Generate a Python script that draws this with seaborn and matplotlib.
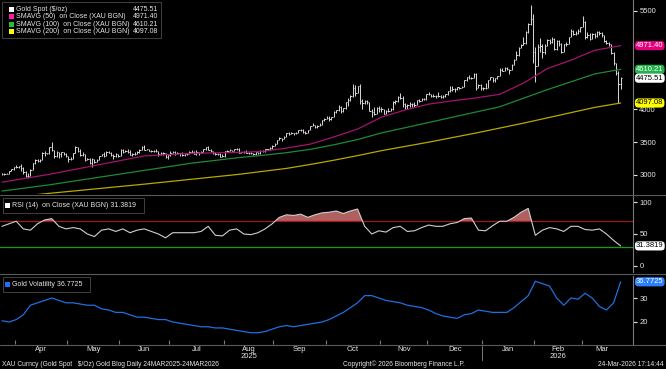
import numpy as np
import pandas as pd
import matplotlib
matplotlib.use("Agg")
import matplotlib.pyplot as plt
import matplotlib.transforms as mtransforms
from matplotlib.patches import Rectangle
from matplotlib.lines import Line2D
import seaborn as sns

# 거래일 (2025-03-24 ~ 2026-03-24)
days = pd.bdate_range("2025-03-24", "2026-03-24")

# 일별 금 현물 종가 / 고가 / 저가
gold_close = [
    3015, 3020, 3020, 3058, 3085, 3125, 3115, 3135, 3110, 3040,
    2985, 2985, 3080, 3175, 3235, 3215, 3230, 3340, 3328, 3328,
    3425, 3380, 3290, 3350, 3320, 3345, 3318, 3288, 3240, 3240,
    3335, 3430, 3365, 3305, 3325, 3232, 3250, 3178, 3240, 3202,
    3230, 3290, 3315, 3295, 3357, 3342, 3300, 3288, 3318, 3290,
    3380, 3353, 3373, 3352, 3310, 3326, 3323, 3355, 3386, 3432,
    3385, 3390, 3370, 3368, 3368, 3368, 3323, 3332, 3328, 3274,
    3303, 3338, 3357, 3326, 3337, 3336, 3301, 3313, 3324, 3355,
    3343, 3324, 3347, 3339, 3350, 3397, 3431, 3387, 3368, 3337,
    3314, 3326, 3275, 3289, 3363, 3373, 3380, 3369, 3396, 3398,
    3342, 3348, 3356, 3337, 3336, 3332, 3315, 3347, 3338, 3371,
    3365, 3394, 3397, 3416, 3448, 3476, 3533, 3559, 3545, 3586,
    3636, 3625, 3640, 3634, 3643, 3679, 3689, 3660, 3643, 3685,
    3747, 3764, 3736, 3749, 3759, 3833, 3859, 3866, 3857, 3886,
    3961, 3985, 4040, 3976, 4017, 4110, 4142, 4208, 4326, 4251,
    4356, 4125, 4096, 4125, 4113, 3982, 3953, 3930, 4025, 4002,
    4000, 3932, 3981, 3977, 4002, 4116, 4128, 4195, 4171, 4084,
    4045, 4067, 4077, 4079, 4065, 4137, 4132, 4164, 4157, 4239,
    4230, 4206, 4206, 4208, 4198, 4190, 4208, 4228, 4280, 4300,
    4305, 4303, 4338, 4330, 4340, 4445, 4488, 4480, 4480, 4533,
    4330, 4370, 4320, 4320, 4330, 4450, 4490, 4455, 4478, 4510,
    4600, 4590, 4625, 4615, 4595, 4670, 4760, 4830, 4940, 4980,
    5010, 5180, 5300, 5380, 4880, 4660, 4950, 4960, 4880, 4960,
    5050, 5020, 5080, 4920, 5040, 4990, 4880, 4990, 5000, 5100,
    5200, 5150, 5170, 5190, 5250, 5330, 5100, 5140, 5080, 5150,
    5120, 5180, 5160, 5130, 5040, 5010, 4990, 4860, 4700, 4560,
    4380, 4475.51,
]
gold_high = [
    3035, 3036, 3035, 3065, 3087, 3128, 3149, 3140, 3168, 3115,
    3055, 3025, 3098, 3180, 3245, 3245, 3240, 3357, 3358, 3335,
    3430, 3500, 3385, 3367, 3352, 3352, 3350, 3328, 3292, 3268,
    3338, 3437, 3434, 3390, 3348, 3325, 3265, 3255, 3252, 3245,
    3250, 3295, 3325, 3345, 3365, 3365, 3350, 3325, 3330, 3325,
    3392, 3392, 3380, 3403, 3375, 3340, 3349, 3360, 3397, 3446,
    3452, 3403, 3395, 3385, 3375, 3398, 3370, 3345, 3350, 3330,
    3310, 3358, 3365, 3365, 3345, 3342, 3345, 3318, 3330, 3368,
    3375, 3366, 3377, 3352, 3361, 3402, 3434, 3438, 3395, 3372,
    3345, 3335, 3333, 3315, 3363, 3381, 3390, 3386, 3400, 3410,
    3404, 3352, 3358, 3375, 3346, 3345, 3340, 3350, 3351, 3375,
    3377, 3394, 3400, 3423, 3453, 3490, 3540, 3578, 3564, 3600,
    3646, 3659, 3650, 3645, 3656, 3684, 3703, 3707, 3672, 3688,
    3750, 3791, 3764, 3761, 3785, 3835, 3872, 3895, 3897, 3888,
    3977, 3990, 4059, 4045, 4022, 4116, 4179, 4218, 4380, 4370,
    4362, 4382, 4161, 4148, 4150, 4112, 4000, 4030, 4030, 4050,
    4030, 4005, 3995, 4025, 4020, 4120, 4148, 4210, 4245, 4210,
    4090, 4080, 4110, 4090, 4110, 4140, 4160, 4170, 4170, 4240,
    4265, 4240, 4230, 4220, 4260, 4215, 4215, 4235, 4285, 4353,
    4350, 4320, 4342, 4348, 4350, 4450, 4497, 4526, 4500, 4550,
    4550, 4385, 4380, 4345, 4400, 4455, 4500, 4500, 4480, 4515,
    4630, 4635, 4640, 4645, 4620, 4690, 4770, 4890, 4955, 4990,
    5110, 5190, 5320, 5595, 5450, 4950, 4990, 5090, 4990, 4990,
    5080, 5070, 5100, 5090, 5050, 5050, 5010, 5000, 5020, 5110,
    5220, 5210, 5190, 5220, 5260, 5420, 5340, 5180, 5160, 5170,
    5160, 5190, 5200, 5175, 5140, 5060, 5030, 5000, 4870, 4710,
    4580, 4490,
]
gold_low = [
    3000, 3005, 3010, 3015, 3055, 3078, 3100, 3105, 3055, 3015,
    2970, 2957, 2980, 3070, 3170, 3193, 3205, 3225, 3285, 3320,
    3325, 3365, 3260, 3280, 3265, 3268, 3300, 3280, 3202, 3222,
    3238, 3330, 3355, 3295, 3290, 3208, 3227, 3173, 3120, 3180,
    3205, 3225, 3282, 3278, 3287, 3330, 3285, 3245, 3275, 3270,
    3290, 3334, 3345, 3340, 3305, 3295, 3310, 3320, 3340, 3378,
    3382, 3380, 3360, 3350, 3345, 3348, 3295, 3312, 3310, 3255,
    3248, 3295, 3328, 3310, 3320, 3295, 3287, 3282, 3308, 3322,
    3341, 3320, 3310, 3309, 3335, 3345, 3382, 3381, 3351, 3325,
    3302, 3309, 3268, 3268, 3280, 3350, 3362, 3358, 3366, 3378,
    3338, 3331, 3340, 3332, 3325, 3323, 3311, 3312, 3327, 3321,
    3357, 3352, 3378, 3385, 3401, 3445, 3470, 3526, 3511, 3542,
    3586, 3615, 3620, 3616, 3630, 3634, 3670, 3643, 3630, 3640,
    3682, 3740, 3717, 3722, 3740, 3759, 3820, 3851, 3820, 3845,
    3884, 3940, 3980, 3945, 3960, 4003, 4058, 4132, 4190, 4200,
    4254, 4082, 4005, 4080, 4075, 3970, 3886, 3920, 3925, 3965,
    3962, 3930, 3928, 3955, 3970, 3995, 4075, 4115, 4160, 4030,
    4008, 4011, 4040, 4040, 4040, 4060, 4105, 4120, 4140, 4150,
    4215, 4190, 4190, 4180, 4195, 4180, 4170, 4190, 4215, 4265,
    4280, 4270, 4290, 4310, 4320, 4340, 4435, 4470, 4470, 4480,
    4300, 4320, 4300, 4300, 4310, 4330, 4440, 4410, 4420, 4460,
    4510, 4580, 4590, 4595, 4540, 4600, 4670, 4760, 4820, 4930,
    4980, 5000, 5160, 5280, 4700, 4420, 4660, 4880, 4790, 4850,
    4960, 4990, 5010, 4900, 4910, 4970, 4860, 4870, 4970, 4990,
    5100, 5130, 5140, 5150, 5180, 5250, 5080, 5090, 5060, 5070,
    5090, 5110, 5140, 5110, 5030, 4990, 4970, 4840, 4680, 4520,
    4100, 4310,
]

# 이동평균 (거래일 인덱스별 판독값)
ma_idx = [0, 20, 40, 60, 80, 100, 110, 120, 130, 140, 150,
          160, 170, 180, 190, 200, 210, 220, 230, 240, 250, 261]
sma50 = [2890, 3010, 3150, 3290, 3330, 3345, 3360, 3410, 3470, 3580, 3700,
         3880, 3990, 4080, 4130, 4175, 4230, 4400, 4620, 4750, 4900, 4971.40]
sma100 = [2755, 2850, 2960, 3070, 3180, 3265, 3300, 3340, 3390, 3460, 3540,
          3640, 3720, 3800, 3880, 3960, 4040, 4170, 4300, 4420, 4540, 4610.21]
sma200 = [2650, 2720, 2790, 2860, 2935, 3010, 3055, 3100, 3160, 3225, 3295,
          3370, 3435, 3500, 3570, 3640, 3715, 3790, 3870, 3950, 4030, 4097.08]

# RSI(14), 변동성 (3 거래일마다)
rsi14 = [62, 66, 70, 58, 56, 66, 72, 74, 62, 58,
         60, 58, 50, 46, 56, 58, 54, 58, 52, 56,
         58, 54, 50, 44, 52, 52, 52, 52, 54, 62,
         48, 47, 56, 58, 50, 49, 52, 58, 66, 76,
         80, 79, 81, 76, 80, 83, 84, 86, 82, 86,
         89, 62, 50, 55, 53, 60, 62, 54, 55, 60,
         64, 62, 62, 66, 68, 74, 75, 56, 55, 63,
         70, 70, 76, 84, 90, 48, 56, 60, 58, 54,
         62, 62, 57, 56, 58, 50, 40, 31.3819]
gold_vol = [20.5, 20, 21, 23, 27, 28, 29, 30, 29, 28,
            28, 27.5, 27, 27, 25.5, 25, 24, 24, 23, 22,
            22, 21.5, 21, 21, 20, 19.5, 19, 18.5, 18, 18,
            17.5, 17.5, 17, 16.5, 16, 15.5, 15.5, 16, 17, 18,
            18.5, 18, 18.5, 19, 19.5, 20, 21, 22.5, 24, 26,
            28, 31, 31, 30, 29, 28.5, 28, 27, 26.5, 26,
            25, 23.5, 22.5, 22, 21.5, 23, 23.5, 25, 24.5, 24,
            24, 24, 26, 28.5, 31, 37, 36, 35, 30, 27,
            30, 29.5, 32, 30, 26.5, 25, 28, 36.7725]

W, H = 666, 369
GRAY = "#7a7a7a"
TXT = "#e6e6e6"

sns.set_style("dark")
plt.rcParams["font.family"] = ["Liberation Sans", "DejaVu Sans"]

fig = plt.figure(figsize=(W / 100, H / 100), dpi=100, facecolor="black")


def px_axes(top, bottom):
    return fig.add_axes([0, 1 - bottom / H, 633 / W, (bottom - top) / H])


ax1 = px_axes(0, 194)
ax2 = px_axes(196, 272)
ax3 = px_axes(276, 344)

x_day = np.arange(len(days))
x_sub = np.arange(len(rsi14)) * 3

# 가격 바
ax1.vlines(x_day, gold_low, gold_high, color="#d9d9d9", lw=0.7)
ax1.hlines(gold_close, x_day, x_day + 0.6, color="#d9d9d9", lw=0.7)
sns.lineplot(x=ma_idx, y=sma200, ax=ax1, color="#b8a800", lw=0.9)
sns.lineplot(x=ma_idx, y=sma100, ax=ax1, color="#1d8a33", lw=0.9)
sns.lineplot(x=ma_idx, y=sma50, ax=ax1, color="#a3136f", lw=0.9)
ax1.set_ylim(2710, 5667)
ax1.set_yticks([3000, 3500, 4000, 5500])

# RSI
rsi_arr = np.array(rsi14)
ax2.fill_between(x_sub, rsi_arr, 70, where=rsi_arr > 70, interpolate=True,
                 color="#b06060", lw=0)
ax2.fill_between(x_sub, rsi_arr, 30, where=rsi_arr < 30, interpolate=True,
                 color="#2f8f2f", lw=0)
ax2.axhline(70, color="#a01818", lw=0.9)
ax2.axhline(30, color="#12a012", lw=0.9)
sns.lineplot(x=x_sub, y=rsi14, ax=ax2, color="#cfcfcf", lw=0.8)
ax2.set_ylim(-9.4, 109.4)
ax2.set_yticks([0, 50, 100])

# 변동성
sns.lineplot(x=x_sub, y=gold_vol, ax=ax3, color="#1f6fe0", lw=0.9)
ax3.set_ylim(10.8, 39.2)
ax3.set_yticks([20, 30])

for ax in (ax1, ax2, ax3):
    ax.set_facecolor("black")
    ax.grid(False)
    for s in ("top", "left", "bottom"):
        ax.spines[s].set_visible(False)
    ax.spines["right"].set_color(GRAY)
    ax.spines["right"].set_linewidth(0.8)
    ax.yaxis.tick_right()
    ax.tick_params(axis="y", colors=TXT, labelsize=5.5, length=3, width=0.8,
                   pad=1.5)
    ax.tick_params(axis="x", bottom=False, labelbottom=False)
    ax.set_xlim(-0.84, 266.2)
    ax.set_xlabel("")
    ax.set_ylabel("")

# 월 구분 눈금과 월 이름
month_key = days.to_period("M")
starts, mids, names = [], [], []
for per in month_key.unique():
    pos = np.where(month_key == per)[0]
    if per.month == 3 and per.year == 2025:
        continue
    starts.append(pos[0] - 0.5)
    mids.append(pos[0] + (len(pos) - 1) / 2)
    names.append(per.strftime("%b"))
ax3.set_xticks(starts)
ax3.set_xticks(mids, minor=True)
ax3.set_xticklabels(names, minor=True)
ax3.tick_params(axis="x", which="major", bottom=True, direction="in",
                length=3, color=GRAY, labelbottom=False)
ax3.tick_params(axis="x", which="minor", bottom=True, length=0,
                labelbottom=True, labelsize=5.5, colors=TXT, pad=1.5)

tr3 = mtransforms.blended_transform_factory(ax3.transData, fig.transFigure)
ax3.text(mids[names.index("Aug")], 1 - 357 / H, "2025", transform=tr3,
         ha="center", va="center", fontsize=5.5, color=TXT)
ax3.text(mids[names.index("Feb")], 1 - 357 / H, "2026", transform=tr3,
         ha="center", va="center", fontsize=5.5, color=TXT)
ax3.add_line(Line2D([starts[names.index("Jan")]] * 2,
                    [1 - 346 / H, 1 - 360 / H], transform=tr3,
                    color=GRAY, lw=0.7, clip_on=False))


def fx(x):
    return x / W


def fy(y):
    return 1 - y / H


# 패널 구분선
for yy in (194.5, 273.5, 344.5):
    fig.add_artist(Line2D([0, 1], [fy(yy), fy(yy)], color="#5a5a5a", lw=0.8))


def right_label(ax, val, text, fc, tc):
    tr = mtransforms.blended_transform_factory(fig.transFigure, ax.transData)
    ax.text(fx(636), val, text, transform=tr, ha="left", va="center",
            fontsize=5.5, color=tc, clip_on=False, zorder=5,
            bbox=dict(boxstyle="round,pad=0.14,rounding_size=0.45", fc=fc,
                      ec="none"))


right_label(ax1, 4971.40, "4971.40", "#e6007e", "white")
right_label(ax1, 4610.21, "4610.21", "#22b24b", "white")
right_label(ax1, 4475.51, "4475.51", "white", "black")
right_label(ax1, 4097.08, "4097.08", "#ffff00", "black")
right_label(ax2, 31.3819, "31.3819", "white", "black")
right_label(ax3, 36.7725, "36.7725", "#2a80ff", "white")


def legend_box(x0, y0, x1, y1):
    fig.add_artist(Rectangle((fx(x0), fy(y1)), fx(x1 - x0), (y1 - y0) / H,
                             transform=fig.transFigure, fc="black",
                             ec="#4a4a4a", lw=0.6, zorder=10))


def legend_row(x, y, color, label, value=None, vx=None):
    fig.add_artist(Rectangle((fx(x), fy(y + 2.5)), fx(5), 5 / H,
                             transform=fig.transFigure, fc=color,
                             ec="none", zorder=11))
    fig.text(fx(x + 6.5), fy(y), label, fontsize=5, color=TXT,
             ha="left", va="center", zorder=12)
    if value is not None:
        fig.text(fx(vx), fy(y), value, fontsize=5, color=TXT,
                 ha="right", va="center", zorder=12)


legend_box(2, 2, 161, 38)
legend_row(9, 9.3, "white", "Gold Spot ($/oz)", "4475.51", 158)
legend_row(9, 16.8, "#ff1aa8", "SMAVG (50)  on Close (XAU BGN)", "4971.40", 158)
legend_row(9, 24.3, "#22c040", "SMAVG (100)  on Close (XAU BGN)", "4610.21", 158)
legend_row(9, 31.8, "#ffff00", "SMAVG (200)  on Close (XAU BGN)", "4097.08", 158)

legend_box(3, 198, 144, 213)
legend_row(5, 205.5, "white", "RSI (14)  on Close (XAU BGN) 31.3819")

legend_box(3, 277, 90, 292)
legend_row(5, 284.5, "#1f6fff", "Gold Volatility 36.7725")

# 하단 정보
fig.text(fx(2), fy(364), "XAU Curncy (Gold Spot   $/Oz) Gold Blog Daily 24MAR2025-24MAR2026",
         fontsize=4.8, color=TXT, ha="left", va="center")
fig.text(fx(343), fy(364), "Copyright\u00a9 2026 Bloomberg Finance L.P.",
         fontsize=4.8, color=TXT, ha="left", va="center")
fig.text(fx(664), fy(364), "24-Mar-2026 17:14:44",
         fontsize=4.8, color=TXT, ha="right", va="center")

fig.savefig("out.png", dpi=100, facecolor="black")
